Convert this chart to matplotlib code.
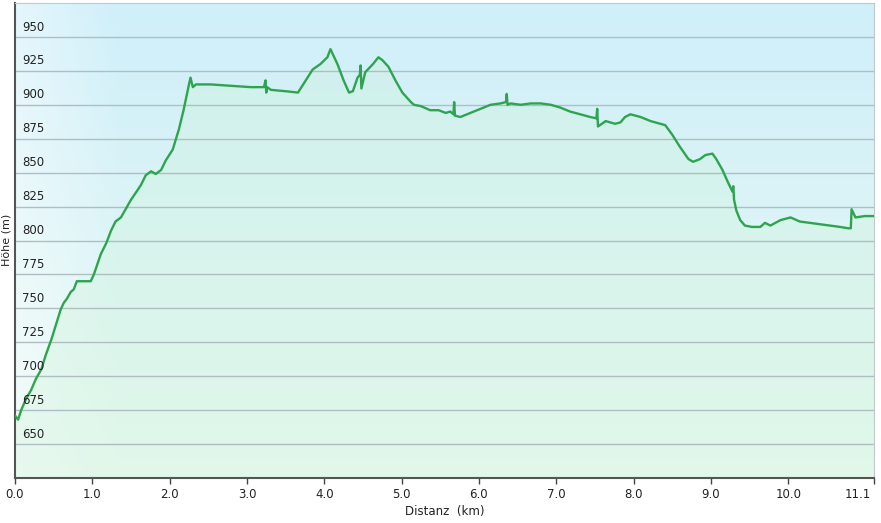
#Elevation profile (Hoehenprofil)

import numpy as np
import matplotlib.pyplot as plt
from matplotlib import transforms


# distance (km) and elevation (m)
dist = [0.00, 0.04, 0.08, 0.14, 0.21, 0.27, 0.34, 0.40, 0.47, 0.53, 0.59, 0.63, 0.67,
        0.72, 0.76, 0.80, 0.98, 1.02, 1.11, 1.18, 1.24, 1.30, 1.37, 1.43, 1.50, 1.56,
        1.63, 1.69, 1.76, 1.82, 1.89, 1.95, 2.04, 2.12, 2.18, 2.25, 2.27, 2.30, 2.34,
        2.53, 2.79, 3.05, 3.22, 3.24, 3.25, 3.26, 3.31, 3.50, 3.66, 3.76, 3.85, 3.95,
        4.04, 4.08, 4.17, 4.25, 4.32, 4.37, 4.43, 4.46, 4.47, 4.48, 4.53, 4.63, 4.70,
        4.75, 4.83, 4.92, 5.01, 5.12, 5.16, 5.25, 5.37, 5.48, 5.57, 5.63, 5.67, 5.68,
        5.69, 5.76, 5.89, 6.02, 6.15, 6.28, 6.35, 6.36, 6.37, 6.41, 6.54, 6.67, 6.80,
        6.93, 7.05, 7.18, 7.31, 7.44, 7.52, 7.53, 7.54, 7.64, 7.76, 7.83, 7.89, 7.96,
        8.09, 8.22, 8.35, 8.41, 8.50, 8.60, 8.71, 8.77, 8.86, 8.93, 9.02, 9.07, 9.15,
        9.22, 9.28, 9.29, 9.30, 9.33, 9.38, 9.44, 9.53, 9.64, 9.70, 9.77, 9.90, 10.03,
        10.15, 10.28, 10.41, 10.54, 10.67, 10.78, 10.81, 10.82, 10.87, 10.99, 11.11]
elev = [671, 668, 675, 683, 690, 698, 705, 716, 727, 738, 749, 754, 757,
        762, 764, 770, 770, 775, 790, 798, 807, 814, 817, 823, 830, 835,
        841, 848, 851, 849, 852, 859, 867, 882, 896, 915, 920, 913, 915,
        915, 914, 913, 913, 918, 909, 913, 911, 910, 909, 918, 926, 930,
        935, 941, 930, 918, 909, 910, 920, 922, 929, 912, 924, 930, 935,
        933, 928, 918, 909, 902, 900, 899, 896, 896, 894, 895, 893, 902,
        892, 891, 894, 897, 900, 901, 902, 908, 900, 901, 900, 901, 901,
        900, 898, 895, 893, 891, 890, 897, 884, 888, 886, 887, 891, 893,
        891, 888, 886, 885, 878, 869, 860, 858, 860, 863, 864, 860, 852,
        843, 836, 840, 830, 822, 815, 811, 810, 810, 813, 811, 815, 817,
        814, 813, 812, 811, 810, 809, 809, 823, 817, 818, 818]

y_levels = [650, 675, 700, 725, 750, 775, 800, 825, 850, 875, 900, 925, 950]
x_ticks = [0, 1, 2, 3, 4, 5, 6, 7, 8, 9, 10, 11.11]
x_labels = ['0.0', '1.0', '2.0', '3.0', '4.0', '5.0', '6.0', '7.0', '8.0', '9.0', '10.0', '11.1']


fig = plt.figure(figsize=(8.81, 5.23), dpi=100)
ax = fig.add_axes([15/881, 45/523, 859/881, 475/523])
ax.set_xlim(0, 11.11)
ax.set_ylim(625, 975)

#background gradient: light blue on top, mint at bottom, whiter on the left
h, w = 200, 300
t = np.linspace(0, 1, h)[:, None]
top = np.array([207, 239, 250]) / 255
bot = np.array([234, 250, 243]) / 255
img = top[None, None, :] * (1 - t[..., None]) + bot[None, None, :] * t[..., None]
img = np.repeat(img, w, axis=1)
s = np.linspace(0, 1, w)[None, :, None]
fade = np.clip(1 - s / 0.12, 0, 1) * 0.45
img = img * (1 - fade) + fade
ax.imshow(img, extent=[0, 11.11, 625, 975], aspect='auto', origin='upper', zorder=0)

ax.fill_between(dist, elev, 625, color='#cdf3d6', alpha=0.3, lw=0, zorder=1)

for lv in y_levels:
    ax.axhline(lv, color='#b0bec3', lw=1, zorder=2)

ax.plot(dist, elev, color='#2ea44f', lw=1.7, zorder=3)

#y labels drawn inside the plot, above each grid line
trans = transforms.blended_transform_factory(ax.transAxes, ax.transData)
for lv in y_levels:
    ax.text(0.0085, lv + 2.5, str(lv), transform=trans, fontsize=8.5,
            color='#222222', va='bottom', ha='left', zorder=4)
ax.set_yticks([])

ax.set_xticks(x_ticks)
ax.set_xticklabels(x_labels, fontsize=8.5, color='#222222')
ax.tick_params(axis='x', length=4, width=1, color='#444444', pad=3)
last = ax.get_xticklabels()[-1]
last.set_ha('right')
last.set_transform(last.get_transform() + transforms.ScaledTranslation(-3/100, 0, fig.dpi_scale_trans))

ax.spines['left'].set_color('#555555')
ax.spines['left'].set_linewidth(1.5)
ax.spines['bottom'].set_color('#555555')
ax.spines['bottom'].set_linewidth(1.5)
ax.spines['top'].set_color('#c4c8ca')
ax.spines['right'].set_color('#c4c8ca')

ax.set_xlabel('Distanz  (km)', fontsize=8.5, color='#222222', labelpad=3)
fig.text(7/881, 1 - 240/523, 'Höhe (m)', rotation=90, fontsize=8,
         color='#222222', ha='center', va='center')

plt.savefig('out.png', dpi=100)
